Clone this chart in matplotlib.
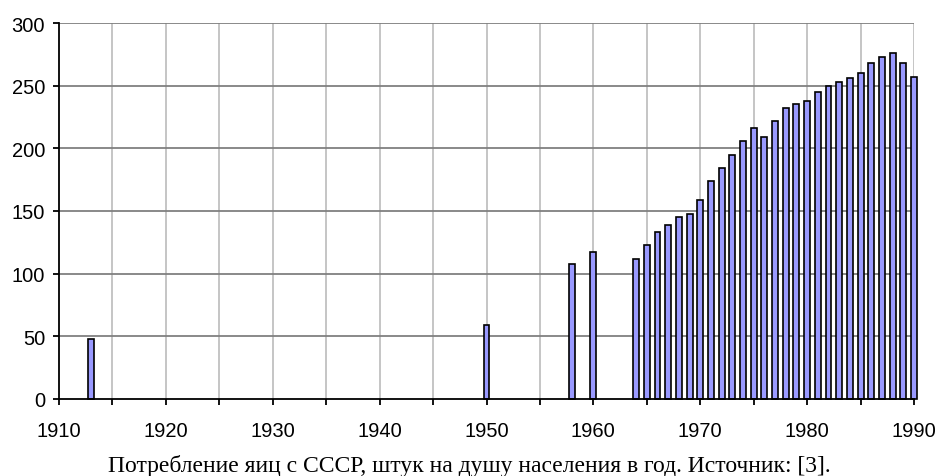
import matplotlib
matplotlib.use("Agg")
import matplotlib.pyplot as plt
from matplotlib.ticker import MultipleLocator

years = [1913, 1950, 1958, 1960,
         1964, 1965, 1966, 1967, 1968, 1969, 1970, 1971, 1972, 1973,
         1974, 1975, 1976, 1977, 1978, 1979, 1980, 1981, 1982, 1983,
         1984, 1985, 1986, 1987, 1988, 1989, 1990]
values = [48, 59, 108, 117,
          112, 123, 133, 139, 145, 148, 159, 174, 184, 195,
          206, 216, 209, 222, 232, 235, 238, 245, 250, 253,
          256, 260, 268, 273, 276, 268, 257]
caption = "Потребление яиц с СССР, штук на душу населения в год. Источник: [3]."

fig = plt.figure(figsize=(9.39, 4.77), dpi=100)
W, H = 939, 477
ax = fig.add_axes([59 / W, (H - 400) / H, (914 - 59) / W, 376 / H])

ax.set_xlim(1910, 1990)
ax.set_ylim(0, 300)

ax.bar(years, values, width=0.56, color="#9999ff", edgecolor="black",
       linewidth=1.2, zorder=3, clip_on=False)

ax.yaxis.set_major_locator(MultipleLocator(50))
ax.set_xticks(range(1910, 1991, 5))
ax.set_xticklabels([str(t) if t % 10 == 0 else "" for t in range(1910, 1991, 5)])

for y in range(50, 301, 50):
    ax.axhline(y, color="#808080", lw=1.3, zorder=1)
for x in range(1915, 1991, 5):
    ax.axvline(x, color="#c0c0c0", lw=1.3, zorder=0.5)

for s in ["top", "right"]:
    ax.spines[s].set_visible(False)
for s in ["left", "bottom"]:
    ax.spines[s].set_color("black")
    ax.spines[s].set_linewidth(1.3)
    ax.spines[s].set_zorder(4)

ax.tick_params(axis="y", direction="out", length=4.5, width=1.3, pad=5.5,
               labelsize=14.5, labelfontfamily="Liberation Sans")
ax.tick_params(axis="x", direction="out", length=4, width=1.3, pad=12,
               labelsize=14.5, labelfontfamily="Liberation Sans")

fig.text(469.5 / W, 1 - 472 / H, caption, ha="center", va="baseline",
         fontsize=17, family="Liberation Serif")

fig.savefig("out.png", dpi=100)
